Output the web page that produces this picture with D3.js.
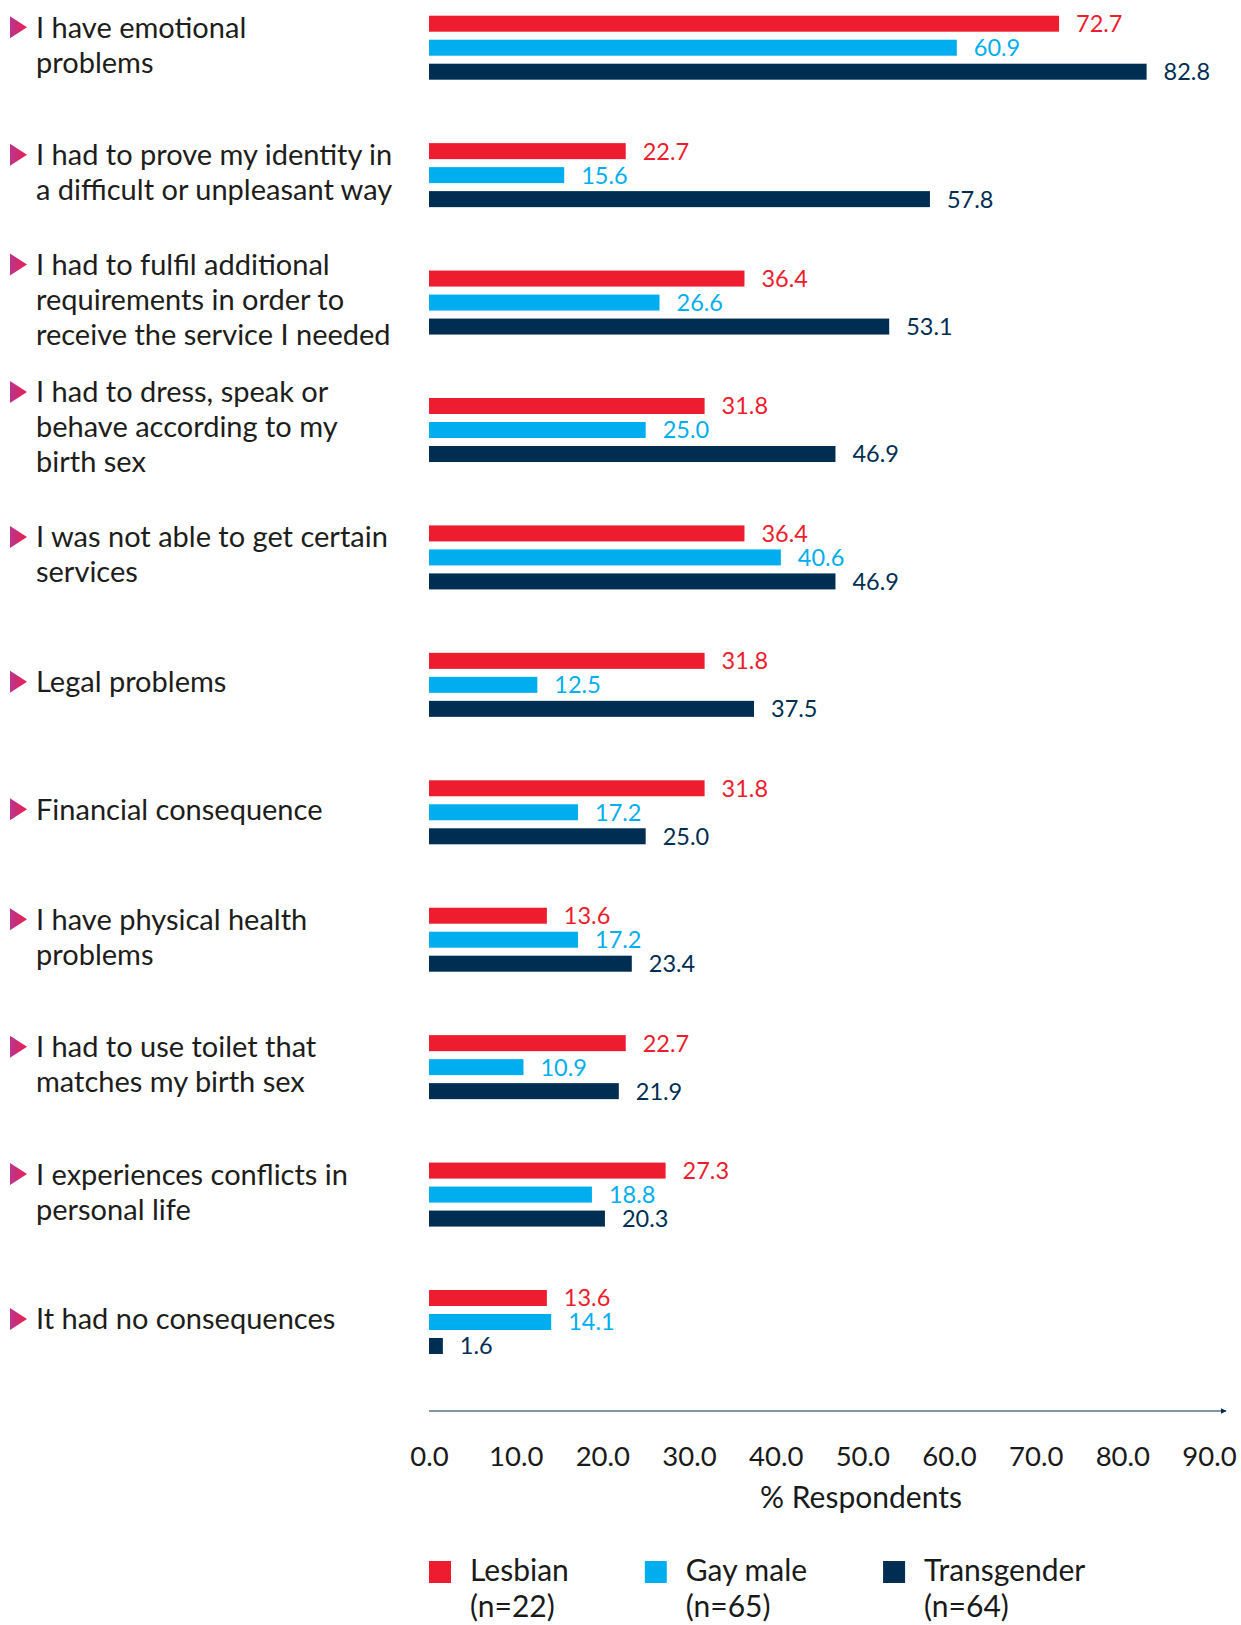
<!DOCTYPE html>
<html>
<head>
<meta charset="utf-8">
<script src="https://cdn.jsdelivr.net/npm/d3@7"></script>
<style>
  html, body { margin: 0; padding: 0; background: #fff; }
  svg { display: block; }
  text { font-family: Lato, "Open Sans", sans-serif; }
</style>
</head>
<body>
<svg id="chart" width="1241" height="1625"></svg>
<script>
// ---------------- DATA ----------------
const categories = [
  "I have emotional|problems",
  "I had to prove my identity in|a difficult or unpleasant way",
  "I had to fulfil additional|requirements in order to|receive the service I needed",
  "I had to dress, speak or|behave according to my|birth sex",
  "I was not able to get certain|services",
  "Legal problems",
  "Financial consequence",
  "I have physical health|problems",
  "I had to use toilet that|matches my birth sex",
  "I experiences conflicts in|personal life",
  "It had no consequences"
];
const seriesNames = ["Lesbian", "Gay male", "Transgender"];
const seriesSizes = ["(n=22)", "(n=65)", "(n=64)"];
const lesbian     = [72.7, 22.7, 36.4, 31.8, 36.4, 31.8, 31.8, 13.6, 22.7, 27.3, 13.6];
const gayMale     = [60.9, 15.6, 26.6, 25.0, 40.6, 12.5, 17.2, 17.2, 10.9, 18.8, 14.1];
const transgender = [82.8, 57.8, 53.1, 46.9, 46.9, 37.5, 25.0, 23.4, 21.9, 20.3, 1.6];
const tickValues  = [0, 10, 20, 30, 40, 50, 60, 70, 80, 90];
const axisTitle   = "% Respondents";

// ---------------- STYLE ----------------
const colors = ["#ED1C2E", "#00AEEF", "#002D52"];
const seriesValues = [lesbian, gayMale, transgender];

const svg = d3.select("#chart");

const x = d3.scaleLinear().domain([0, 90]).range([429, 1209]);
const y = d3.scalePoint().domain(categories).range([47.7, 1322]);
const inner = d3.scaleBand().domain(seriesNames).range([-36, 36])
  .paddingInner(1/3).paddingOuter(1/6);

// gradient for triangles
const defs = svg.append("defs");
const grad = defs.append("linearGradient").attr("id", "triGrad")
  .attr("x1", "0%").attr("x2", "100%").attr("y1", "0%").attr("y2", "0%");
grad.append("stop").attr("offset", "0%").attr("stop-color", "#B8358F");
grad.append("stop").attr("offset", "100%").attr("stop-color", "#EC1F4E");

defs.append("marker").attr("id", "arrow")
  .attr("viewBox", "0 0 10 10").attr("refX", 9).attr("refY", 5)
  .attr("markerWidth", 6).attr("markerHeight", 6).attr("markerUnits", "userSpaceOnUse")
  .attr("orient", "auto")
  .append("path").attr("d", "M0,0 L10,5 L0,10 Z").attr("fill", "#002D52");

// ---------------- BARS ----------------
const groups = svg.selectAll("g.group").data(categories).join("g")
  .attr("class", "group")
  .attr("transform", d => `translate(0,${y(d)})`);

groups.each(function(cat, ci) {
  const g = d3.select(this);
  seriesNames.forEach((s, si) => {
    const v = seriesValues[si][ci];
    g.append("rect")
      .attr("x", x(0))
      .attr("y", inner(s))
      .attr("width", x(v) - x(0))
      .attr("height", inner.bandwidth())
      .attr("fill", colors[si]);
    g.append("text")
      .attr("x", x(v) + 17)
      .attr("y", inner(s) + inner.bandwidth() / 2)
      .attr("dy", "0.36em")
      .attr("fill", colors[si])
      .attr("font-size", 23.5)
      .text(v.toFixed(1));
  });

  // category label
  const lines = cat.split("|");
  const lh = 35;
  const top = -((lines.length - 1) * lh) / 2 - 3;
  const t = g.append("text")
    .attr("font-size", 29)
    .attr("fill", "#1d1d1b");
  lines.forEach((ln, li) => {
    t.append("tspan")
      .attr("x", 36)
      .attr("y", top + li * lh)
      .attr("dy", "0.36em")
      .text(ln);
  });
  // triangle marker at first line
  const ty = top;
  g.append("path")
    .attr("d", `M10,${ty - 11} L27,${ty} L10,${ty + 11} Z`)
    .attr("fill", "url(#triGrad)");
});

// ---------------- AXIS ----------------
const axisY = 1411;
svg.append("line")
  .attr("x1", x(0)).attr("x2", x(90) + 17)
  .attr("y1", axisY).attr("y2", axisY)
  .attr("stroke", "#7F95A8").attr("stroke-width", 2)
  .attr("marker-end", "url(#arrow)");

const axisG = svg.append("g")
  .attr("transform", `translate(0,${axisY})`)
  .call(d3.axisBottom(x).tickValues(tickValues).tickSize(0).tickPadding(35)
    .tickFormat(d => d3.format(".1f")(d)));
axisG.select(".domain").remove();
axisG.selectAll("text")
  .attr("font-family", "Lato, 'Open Sans', sans-serif")
  .attr("font-size", 27.5)
  .attr("fill", "#1a1a1a");

svg.append("text")
  .attr("x", 861).attr("y", 1497).attr("dy", "0.36em")
  .attr("text-anchor", "middle")
  .attr("font-size", 30)
  .attr("fill", "#1a1a1a")
  .text(axisTitle);

// ---------------- LEGEND ----------------
let lx = 429;
seriesNames.forEach((s, i) => {
  const g = svg.append("g").attr("transform", `translate(${lx},0)`);
  g.append("rect").attr("x", 0).attr("y", 1561).attr("width", 22).attr("height", 22)
    .attr("fill", colors[i]);
  const t1 = g.append("text").attr("font-size", 30).attr("fill", "#1a1a1a")
    .attr("x", 41).attr("y", 1570).attr("dy", "0.36em").text(s);
  const t2 = g.append("text").attr("font-size", 30).attr("fill", "#1a1a1a")
    .attr("x", 41).attr("y", 1606).attr("dy", "0.36em").text(seriesSizes[i]);
  const w = Math.max(t1.node().getBBox().width, t2.node().getBBox().width);
  lx += 41 + w + 76;
});
</script>
</body>
</html>
